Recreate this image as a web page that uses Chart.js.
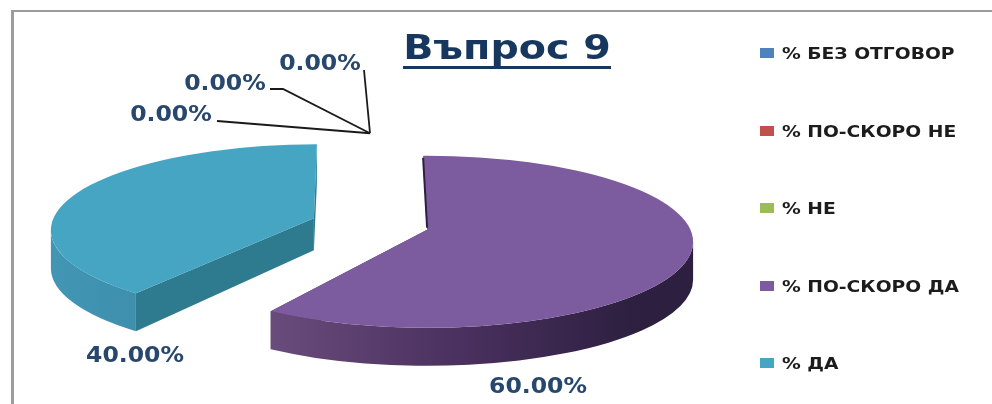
<!DOCTYPE html>
<html>
<head>
<meta charset="utf-8">
<title>Въпрос 9</title>
<script src="https://cdn.jsdelivr.net/npm/chart.js@4"></script>
<style>
  html, body { margin:0; padding:0; background:#fff; overflow:hidden; width:992px; height:404px; }
  #frame { position:absolute; left:11px; top:10px; width:1000px; height:400px; border-left:3px solid #9c9c9c; border-top:2px solid #9c9c9c; box-sizing:border-box; }
  #c { position:absolute; left:0; top:0; display:block; }
  #legend { position:absolute; left:760px; top:43px; font:bold 16px "DejaVu Sans"; color:#1c1c1c; }
  .leg-item { position:relative; height:77.5px; white-space:nowrap; }
  .leg-box { position:absolute; left:0; top:5px; width:14px; height:10px; }
  .leg-text { position:absolute; left:22px; top:1px; line-height:19px; transform:scaleX(1.17); transform-origin:left center; }
</style>
</head>
<body>
<div id="frame"></div>
<canvas id="c" width="992" height="404"></canvas>
<div id="legend"></div>
<script>
const chartTitle = 'Въпрос 9';
const categories = ['% БЕЗ ОТГОВОР', '% ПО-СКОРО НЕ', '% НЕ', '% ПО-СКОРО ДА', '% ДА'];
const percents   = [0, 0, 0, 60, 40];
const colors     = ['#4f81bd', '#c0504d', '#9bbb59', '#7c5c9e', '#45a5c3'];

// 3D look: the library's arcs get squashed into this ellipse
const PIE = { cx: 372, cy: 236, rx: 266, ry: 86, depth: 38, lift: 12 };
const EXPLODE = 38.5;
const labelSpots = [
  { x: 171, y: 116, from: [[217, 121]] },
  { x: 225, y: 85,  from: [[270, 89], [283, 89]] },
  { x: 320, y: 65,  from: [[364, 70]] },
  { x: 538, y: 388 },
  { x: 135, y: 357 }
];
// the real picture has perspective, the front corner of the small slice sits further round
const cornerNudge = [0, 0, 0, 0, 0.12];
const rimStops = {
  3: [[0.2, '#6a4c7c'], [0.55, '#4b3160'], [0.9, '#2c1f3f']],
  4: [[0, '#4296b4'], [0.3, '#3a8aa6'], [0.6, '#33809a']]
};
const faceColors = { 3: '#4b3160', 4: '#2e7b90' };

document.getElementById('legend').innerHTML = categories.map((c, i) =>
  `<div class="leg-item"><span class="leg-box" style="background:${colors[i]}"></span><span class="leg-text">${c}</span></div>`
).join('');

function sliceGeom(arc) {
  const p = arc.getProps(['x', 'y', 'startAngle', 'endAngle', 'outerRadius']);
  const mid = (p.startAngle + p.endAngle) / 2;
  const ox = Math.cos(mid) * arc.options.offset / p.outerRadius;
  const oy = Math.sin(mid) * arc.options.offset / p.outerRadius;
  return {
    cx: PIE.cx + ox * PIE.rx,
    cy: PIE.cy + oy * PIE.ry,
    a0: p.startAngle,
    a1: p.endAngle,
    empty: p.endAngle - p.startAngle < 1e-6
  };
}

function drawSlice(ctx, g, i) {
  const { rx, ry, depth, lift } = PIE;
  const a0 = g.a0 + cornerNudge[i];
  const a1 = g.a1;
  const ax = g.cx - (i === 4 ? 3 : 0), ay = g.cy - lift;

  // cut faces, the ones turned away end up under the top surface
  ctx.fillStyle = faceColors[i];
  [a0, a1].forEach(a => {
    const px = g.cx + Math.cos(a) * rx, py = g.cy + Math.sin(a) * ry;
    ctx.beginPath();
    ctx.moveTo(ax, ay); ctx.lineTo(px, py); ctx.lineTo(px, py + depth); ctx.lineTo(ax, ay + depth - 6);
    ctx.closePath(); ctx.fill();
  });

  // outer rim, lower half of the ellipse only
  const from = Math.max(a0, 0), to = Math.min(a1, Math.PI);
  if (to > from) {
    const grad = ctx.createLinearGradient(g.cx - rx, 0, g.cx + rx, 0);
    rimStops[i].forEach(s => grad.addColorStop(s[0], s[1]));
    ctx.fillStyle = grad;
    ctx.beginPath();
    ctx.ellipse(g.cx, g.cy, rx, ry, 0, from, to);
    ctx.ellipse(g.cx, g.cy + depth, rx, ry, 0, to, from, true);
    ctx.closePath(); ctx.fill();
  }

  // top surface, the purple one leans a little left at its upright edge
  ctx.fillStyle = colors[i];
  ctx.beginPath();
  ctx.moveTo(ax, ay);
  if (i === 3) ctx.lineTo(g.cx - 4, g.cy - ry);
  ctx.ellipse(g.cx, g.cy, rx, ry, 0, a0, a1);
  ctx.closePath(); ctx.fill();

  // dark sliver on that upright edge
  if (i === 3) {
    ctx.strokeStyle = '#2c1f3f';
    ctx.lineWidth = 2;
    ctx.beginPath(); ctx.moveTo(g.cx - 4, g.cy - ry + 2); ctx.lineTo(g.cx, ay - 2); ctx.stroke();
  }
}

function wideText(ctx, text, x, y, sx) {
  ctx.save();
  ctx.translate(x, y);
  ctx.scale(sx, 1);
  ctx.fillText(text, 0, 0);
  ctx.restore();
}

const pie3d = {
  id: 'pie3d',
  beforeDatasetsDraw(chart) {
    const ctx = chart.ctx;
    const arcs = chart.getDatasetMeta(0).data;
    const geoms = arcs.map(sliceGeom);
    ctx.save();
    geoms.forEach((g, i) => { if (!g.empty) drawSlice(ctx, g, i); });

    // leader lines of the empty slices all start from their shared point
    ctx.strokeStyle = '#1a1a1a';
    ctx.lineWidth = 1.8;
    geoms.forEach((g, i) => {
      const spot = labelSpots[i];
      if (!g.empty || !spot.from) return;
      ctx.beginPath();
      ctx.moveTo(g.cx + Math.cos(g.a0) * PIE.rx - 2, g.cy + Math.sin(g.a0) * PIE.ry + 2);
      spot.from.slice().reverse().forEach(pt => ctx.lineTo(pt[0], pt[1]));
      ctx.stroke();
    });

    // value labels
    ctx.fillStyle = '#27476d';
    ctx.font = 'bold 21px "DejaVu Sans"';
    ctx.textAlign = 'center';
    ctx.textBaseline = 'middle';
    percents.forEach((v, i) => {
      wideText(ctx, v.toFixed(2) + '%', labelSpots[i].x, labelSpots[i].y, 1.12);
    });

    // title
    ctx.fillStyle = '#17375e';
    ctx.font = 'bold 33px "DejaVu Sans"';
    wideText(ctx, chartTitle, 507, 50, 1.2);
    ctx.fillRect(403, 66, 208, 3);
    ctx.restore();
    return false;
  }
};

new Chart(document.getElementById('c'), {
  type: 'pie',
  data: {
    labels: categories,
    datasets: [{ data: percents, backgroundColor: colors, borderWidth: 0, offset: EXPLODE }]
  },
  options: {
    responsive: false,
    animation: false,
    layout: { padding: { top: 12 } },
    plugins: {
      tooltip: { enabled: false },
      legend: { display: false }
    }
  },
  plugins: [pie3d]
});
</script>
</body>
</html>
